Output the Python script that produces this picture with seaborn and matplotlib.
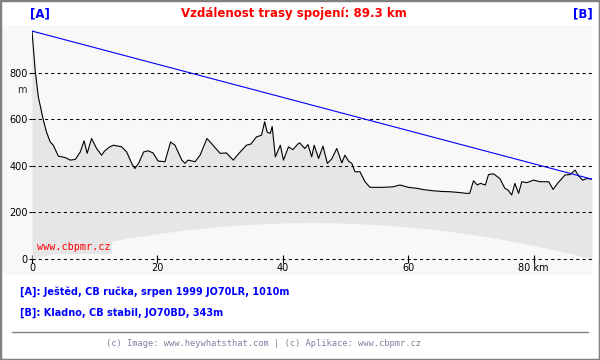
import matplotlib
matplotlib.use('Agg')
import numpy as np
import pandas as pd
import matplotlib.pyplot as plt
import seaborn as sns
from matplotlib.patches import Rectangle
from matplotlib.lines import Line2D

# ---------------------------------------------------------------------------
# Data
# ---------------------------------------------------------------------------
terrain_km = [0, 0.5, 1.0, 1.8, 2.3, 2.9, 3.4, 4.2, 5.3, 6.1, 6.9, 7.7, 8.3, 8.8,
              9.5, 10.3, 11.1, 11.6, 12.4, 13.0, 14.3, 15.1, 15.9, 16.4, 17.0,
              17.8, 18.5, 19.3, 20.1, 21.2, 22.1, 22.8, 23.9, 24.4, 24.9, 26.0,
              26.8, 27.9, 28.7, 30.0, 31.0, 32.1, 32.9, 34.2, 34.9, 35.8, 36.6,
              37.1, 37.5, 38.0, 38.3, 38.8, 39.6, 40.1, 40.9, 41.6, 42.4, 42.7,
              43.5, 44.0, 44.6, 45.0, 45.7, 46.4, 47.1, 47.8, 48.6, 49.4, 49.9,
              50.5, 51.0, 51.5, 52.3, 53.1, 53.9, 56.0, 57.5, 58.7, 60.0, 61.3,
              62.5, 64.0, 65.5, 66.7, 68.0, 69.3, 69.8, 70.4, 71.0, 71.5, 72.3,
              72.8, 73.6, 74.6, 75.4, 75.9, 76.5, 77.0, 77.6, 78.1, 78.9, 80.0,
              81.0, 82.4, 83.1, 83.9, 85.0, 85.8, 86.6, 87.2, 87.8, 88.5, 89.3]
terrain_m = [980, 813, 698, 598, 547, 503, 489, 442, 436, 425, 428, 460, 508, 454,
             518, 475, 446, 465, 482, 489, 482, 460, 411, 389, 411,
             460, 465, 456, 421, 418, 503, 489, 425, 411, 425, 418,
             446, 518, 494, 454, 456, 425, 451, 489, 494, 525, 532,
             590, 545, 540, 570, 439, 489, 425, 482, 470, 494, 499,
             475, 492, 439, 489, 432, 485, 411, 430, 475, 413, 446,
             420, 411, 375, 375, 332, 308, 308, 310, 318, 308, 304,
             298, 293, 290, 289, 286, 282, 282, 336, 318, 325, 318,
             363, 366, 346, 304, 296, 275, 325, 282, 332, 328, 339,
             332, 332, 299, 328, 361, 363, 382, 356, 339, 346, 343]

# earth bulge (lower edge of the grey terrain fill)
curve_km = [0, 5, 10, 15, 20, 25, 30, 35, 40, 45, 50, 55, 60, 65, 70, 75, 80, 85, 89.3]
curve_m = [0, 33, 62, 88, 109, 126, 140, 149, 155, 157, 154, 148, 138, 124, 106, 84, 58, 29, 0]

# line of sight A -> B
los_km = [0, 89.3]
los_m = [980, 343]

x_ticks = [0, 20, 40, 60, 80]
x_labels = ['0', '20', '40', '60', '80 km']
y_ticks = [0, 200, 400, 600, 800]

title = 'Vzdálenost trasy spojení: 89.3 km'
site_a = '[A]: Ještěd, CB ručka, srpen 1999 JO70LR, 1010m'
site_b = '[B]: Kladno, CB stabil, JO70BD, 343m'
footer = '(c) Image: www.heywhatsthat.com | (c) Aplikace: www.cbpmr.cz'

# ---------------------------------------------------------------------------
# Figure
# ---------------------------------------------------------------------------
sns.set_style('white')
plt.rcParams['font.family'] = ['DejaVu Sans']

W, H = 600, 360
fig = plt.figure(figsize=(6, 3.6), dpi=100)
fig.patch.set_facecolor('white')

def fx(px):
    return px / W

def fy(py):
    return 1 - py / H

# light panel behind the plot and the outer frame
fig.patches.append(Rectangle((fx(2), fy(275)), fx(590), 250 / H, transform=fig.transFigure,
                             facecolor='#f8f8f8', edgecolor='none', zorder=-1))
fig.patches.append(Rectangle((0, 0), 1, 1, transform=fig.transFigure, fill=False,
                             edgecolor='#808080', linewidth=2.5, zorder=5))

ax = fig.add_axes([fx(32), fy(275), fx(560), 250 / H])
ax.set_facecolor('none')

terrain = pd.DataFrame({'km': terrain_km, 'm': terrain_m})
curve = pd.DataFrame({'km': curve_km, 'm': curve_m})
terrain_fill_base = np.interp(terrain['km'], curve['km'], curve['m'])

ax.fill_between(terrain['km'], terrain_fill_base, terrain['m'], color='#e6e6e6',
                linewidth=0, zorder=1)
for yv in y_ticks:
    ax.axhline(yv, color='black', linewidth=0.75, linestyle=(0, (3, 3)), zorder=2)
sns.lineplot(data=terrain, x='km', y='m', ax=ax, color='black', linewidth=0.8, zorder=3)
sns.lineplot(x=los_km, y=los_m, ax=ax, color='#0000ff', linewidth=0.8, zorder=4)

ax.set_xlim(0, 89.3)
ax.set_ylim(-69, 1006)
ax.set_xlabel('')
ax.set_ylabel('')
for s in ax.spines.values():
    s.set_visible(False)
ax.spines['bottom'].set_position(('data', 0))

ax.set_xticks(x_ticks)
ax.set_xticklabels(x_labels)
ax.set_yticks(y_ticks)
ax.set_yticklabels([str(v) for v in y_ticks])
ax.tick_params(axis='x', direction='inout', length=6, width=0.8, pad=0, labelsize=7,
               colors='black', bottom=True)
ax.tick_params(axis='y', direction='inout', length=4, width=0.8, pad=1, labelsize=7,
               colors='black', left=True)

ax.text(-0.9, 727, 'm', fontsize=7, ha='right', va='center')
ax.text(0.8, 50, 'www.cbpmr.cz', fontsize=7.3, color='#ff0000', family='DejaVu Sans Mono',
        ha='left', va='center', zorder=6,
        bbox=dict(boxstyle='square,pad=0.15', facecolor='#e6e6e6', edgecolor='none'))

# header texts
fig.text(fx(294), fy(14), title, color='#ff0000', fontsize=8.5, fontweight='bold',
         ha='center', va='center')
fig.text(fx(30), fy(14), '[A]', color='#0000ff', fontsize=8.5, fontweight='bold',
         ha='left', va='center')
fig.text(fx(593), fy(14), '[B]', color='#0000ff', fontsize=8.5, fontweight='bold',
         ha='right', va='center')

# site descriptions and footer
fig.text(fx(20), fy(292), site_a, color='#0000ff', fontsize=7, fontweight='bold',
         ha='left', va='center')
fig.text(fx(20), fy(313), site_b, color='#0000ff', fontsize=7, fontweight='bold',
         ha='left', va='center')
fig.add_artist(Line2D([fx(12), fx(588)], [fy(332), fy(332)], color='#808080', linewidth=1))
fig.text(fx(264), fy(344), footer, color='#8080a0', fontsize=6.3, family='DejaVu Sans Mono',
         ha='center', va='center')

fig.savefig('out.png', dpi=100)
